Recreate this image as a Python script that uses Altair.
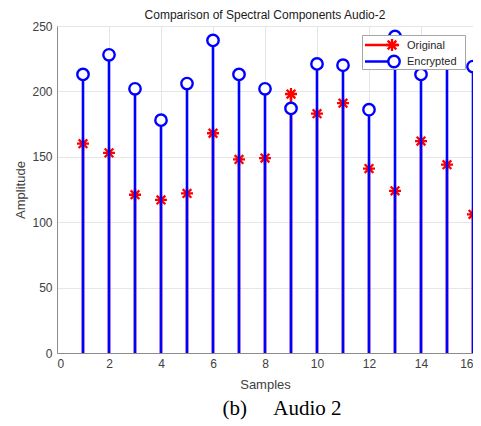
import altair as alt
import pandas as pd

samples = list(range(1, 17))
original = [160, 153, 121, 117, 122, 168, 148, 149, 198, 183, 191, 141, 124, 162, 144, 106]
encrypted = [213, 228, 202, 178, 206, 239, 213, 202, 187, 221, 220, 186, 242, 213, 230, 219]
x_ticks = list(range(0, 17, 2))
y_ticks = [0, 50, 100, 150, 200, 250]
legend_labels = ["Original", "Encrypted"]
title_text = "Comparison of Spectral Components Audio-2"
caption_text = ["(b)\u00a0\u00a0\u00a0\u00a0\u00a0Audio 2"]

df = pd.DataFrame({"Samples": samples, "Original": original, "Encrypted": encrypted})

RED = "#ff0000"
BLUE = "#0000ff"
STAR = "M0,-1L0,1M-1,0L1,0M-0.72,-0.72L0.72,0.72M-0.72,0.72L0.72,-0.72"

xscale = alt.Scale(domain=[0, 16], nice=False, zero=False)
yscale = alt.Scale(domain=[0, 250], nice=False)

xax = alt.Axis(values=x_ticks, title="Samples", grid=True, ticks=False,
               labelPadding=5, titlePadding=9, labelFontSize=12, titleFontSize=13)
yax = alt.Axis(values=y_ticks, title="Amplitude", grid=True, ticks=False,
               labelPadding=5, titlePadding=4, labelFontSize=12, titleFontSize=13)

base = alt.Chart(df)

red_stem = base.mark_rule(color=RED, strokeWidth=2.5).encode(
    x=alt.X("Samples:Q", scale=xscale, axis=xax),
    y=alt.Y("Original:Q", scale=yscale, axis=yax),
    y2=alt.datum(0),
)
red_star = base.mark_point(shape=STAR, filled=False, stroke=RED, strokeWidth=2.3,
                           size=144, opacity=1).encode(
    x=alt.X("Samples:Q", scale=xscale),
    y=alt.Y("Original:Q", scale=yscale),
)
blue_stem = base.mark_rule(color=BLUE, strokeWidth=2.6).encode(
    x=alt.X("Samples:Q", scale=xscale),
    y=alt.Y("Encrypted:Q", scale=yscale),
    y2=alt.datum(0),
)
blue_circ = base.mark_point(shape="circle", filled=False, fill="white", fillOpacity=1,
                            stroke=BLUE, strokeWidth=2.4, size=130, opacity=1).encode(
    x=alt.X("Samples:Q", scale=xscale),
    y=alt.Y("Encrypted:Q", scale=yscale),
)

# Legend (manual, MATLAB style); positions relative to plot area origin (page 57, 26)
leg_data = alt.Data(values=[{"k": 0}])
leg_box = alt.Chart(leg_data).mark_rect(fill="white", stroke="#a6a6a6", strokeWidth=1).encode(
    x=alt.value(305.5), x2=alt.value(408.5), y=alt.value(9.5), y2=alt.value(43.5))
leg_l1 = alt.Chart(leg_data).mark_rule(color=RED, strokeWidth=2.5).encode(
    x=alt.value(308), x2=alt.value(342), y=alt.value(19))
leg_p1 = alt.Chart(leg_data).mark_point(shape=STAR, filled=False, stroke=RED, strokeWidth=2.3,
                                        size=144, opacity=1).encode(
    x=alt.value(335), y=alt.value(19))
leg_t1 = alt.Chart(alt.Data(values=[{"label": legend_labels[0]}])).mark_text(
    align="left", baseline="middle", font="Liberation Sans", fontSize=11, color="#262626").encode(
    x=alt.value(350), y=alt.value(19.5), text="label:N")
leg_l2 = alt.Chart(leg_data).mark_rule(color=BLUE, strokeWidth=2.5).encode(
    x=alt.value(308), x2=alt.value(332), y=alt.value(35.5))
leg_p2 = alt.Chart(leg_data).mark_point(shape="circle", filled=False, fill="white", fillOpacity=1,
                                        stroke=BLUE, strokeWidth=2.4, size=130, opacity=1).encode(
    x=alt.value(337), y=alt.value(35.5))
leg_t2 = alt.Chart(alt.Data(values=[{"label": legend_labels[1]}])).mark_text(
    align="left", baseline="middle", font="Liberation Sans", fontSize=11, color="#262626").encode(
    x=alt.value(350), y=alt.value(36), text="label:N")

caption = alt.Chart(alt.Data(values=[{"c": caption_text[0]}])).mark_text(
    align="center", baseline="alphabetic", font="Liberation Serif", fontSize=21, color="black").encode(
    x=alt.value(225), y=alt.value(389), text="c:N")

chart = alt.layer(
    red_stem, red_star, blue_stem, blue_circ,
    leg_box, leg_l1, leg_p1, leg_t1, leg_l2, leg_p2, leg_t2,
    caption,
).properties(
    width=416,
    height=327,
    title=alt.TitleParams(title_text, fontSize=12, fontWeight="normal", font="Liberation Sans",
                          color="#1a1a1a", offset=-2, anchor="middle"),
    autosize=alt.AutoSizeParams(type="none"),
    padding={"left": 49, "top": 18, "right": 0, "bottom": 72},
).configure_view(
    stroke="#8c8c8c", strokeWidth=1
).configure_axis(
    labelFont="Liberation Sans", titleFont="Liberation Sans",
    labelColor="#404040", titleColor="#404040", titleFontWeight="normal",
    domainColor="#8c8c8c", gridColor="#e6e6e6", gridWidth=1,
)

chart.save("out.html", embed_options={"renderer": "svg", "actions": False})
